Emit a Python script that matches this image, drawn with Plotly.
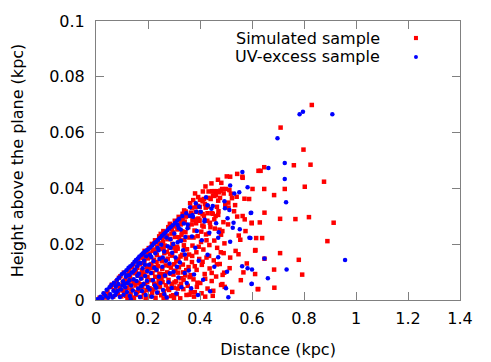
import plotly.graph_objects as go

# ---------------- data (distance kpc, height kpc) ----------------
sim_near = [
    (0.014, 0.0008), (0.031, 0.0022), (0.022, 0.0004), (0.044, 0.0031), (0.039, 0.0009), (0.057, 0.0047),
    (0.049, 0.0018), (0.066, 0.0012), (0.061, 0.0055), (0.072, 0.0036), (0.079, 0.0067), (0.084, 0.0021),
    (0.071, 0.0058), (0.091, 0.0044), (0.088, 0.0079), (0.097, 0.0013), (0.094, 0.0085), (0.103, 0.0061),
    (0.109, 0.0027), (0.107, 0.0098), (0.118, 0.0043), (0.113, 0.0072), (0.121, 0.0008), (0.126, 0.0104),
    (0.129, 0.0056), (0.133, 0.0023), (0.124, 0.0089), (0.138, 0.0117), (0.141, 0.0071), (0.136, 0.0038),
    (0.146, 0.0004), (0.149, 0.0096), (0.144, 0.0128), (0.152, 0.0052), (0.157, 0.0141), (0.155, 0.0019),
    (0.161, 0.0087), (0.159, 0.0115), (0.166, 0.0033), (0.163, 0.0062), (0.169, 0.0152), (0.172, 0.0011),
    (0.168, 0.0128), (0.175, 0.0079), (0.178, 0.0046), (0.181, 0.0163), (0.177, 0.0105), (0.184, 0.0024),
    (0.186, 0.0137), (0.183, 0.0091), (0.189, 0.0058), (0.192, 0.0171), (0.191, 0.0007), (0.195, 0.0119),
    (0.198, 0.0083), (0.194, 0.0035), (0.199, 0.0149), (0.116, 0.0015), (0.131, 0.0082), (0.147, 0.0061),
    (0.153, 0.0103), (0.171, 0.0056), (0.187, 0.0176), (0.197, 0.0064), (0.139, 0.0009), (0.102, 0.0034),
    (0.085, 0.0052), (0.158, 0.0029), (0.176, 0.0132),
]
sim_mid = [
    (0.203, 0.0186), (0.206, 0.0042), (0.201, 0.0112), (0.209, 0.0153), (0.212, 0.0071), (0.208, 0.0013),
    (0.215, 0.0201), (0.217, 0.0097), (0.213, 0.0129), (0.221, 0.0038), (0.219, 0.0176), (0.224, 0.0059),
    (0.227, 0.0214), (0.223, 0.0144), (0.229, 0.0008), (0.232, 0.0107), (0.228, 0.0083), (0.235, 0.0192),
    (0.238, 0.0026), (0.234, 0.0161), (0.241, 0.0069), (0.243, 0.0228), (0.239, 0.0121), (0.246, 0.0046),
    (0.248, 0.0183), (0.244, 0.0094), (0.251, 0.0017), (0.253, 0.0139), (0.249, 0.0237), (0.256, 0.0064),
    (0.258, 0.0209), (0.255, 0.0112), (0.261, 0.0031), (0.263, 0.0168), (0.259, 0.0247), (0.266, 0.0086),
    (0.268, 0.0124), (0.265, 0.0195), (0.271, 0.0009), (0.273, 0.0231), (0.269, 0.0053), (0.276, 0.0148),
    (0.278, 0.0261), (0.274, 0.0099), (0.281, 0.0036), (0.283, 0.0187), (0.279, 0.0072), (0.286, 0.0219),
    (0.288, 0.0116), (0.284, 0.0273), (0.291, 0.0058), (0.293, 0.0159), (0.289, 0.0014), (0.296, 0.0242),
    (0.298, 0.0091), (0.294, 0.0201), (0.301, 0.0128), (0.303, 0.0284), (0.299, 0.0044), (0.306, 0.0176),
    (0.308, 0.0067), (0.304, 0.0226), (0.311, 0.0021), (0.313, 0.0253), (0.309, 0.0139), (0.316, 0.0098),
    (0.318, 0.0298), (0.314, 0.0184), (0.321, 0.0049), (0.323, 0.0213), (0.319, 0.0117), (0.326, 0.0271),
    (0.328, 0.0078), (0.324, 0.0006), (0.331, 0.0162), (0.333, 0.0309), (0.329, 0.0234), (0.336, 0.0039),
    (0.338, 0.0196), (0.334, 0.0127), (0.341, 0.0281), (0.343, 0.0088), (0.339, 0.0321), (0.346, 0.0149),
    (0.348, 0.0018), (0.344, 0.0243), (0.347, 0.0107), (0.226, 0.0118), (0.236, 0.0053), (0.247, 0.0151),
    (0.257, 0.0093), (0.262, 0.0226), (0.272, 0.0172), (0.277, 0.0041), (0.287, 0.0094), (0.292, 0.0255),
    (0.302, 0.0063), (0.312, 0.0191), (0.317, 0.0145), (0.327, 0.0058), (0.332, 0.0246), (0.342, 0.0182),
    (0.237, 0.0209), (0.254, 0.0223), (0.282, 0.0123), (0.297, 0.0017), (0.307, 0.0264), (0.322, 0.0291),
    (0.337, 0.0072), (0.216, 0.0026), (0.231, 0.0172),
]
sim_extra = [
    (0.162, 0.0138), (0.171, 0.0094), (0.183, 0.0151), (0.194, 0.0102), (0.205, 0.0167), (0.214, 0.0115),
    (0.222, 0.0181), (0.233, 0.0136), (0.245, 0.0203), (0.252, 0.0079), (0.260, 0.0187), (0.267, 0.0142),
    (0.275, 0.0218), (0.285, 0.0165), (0.290, 0.0238), (0.300, 0.0188), (0.305, 0.0105), (0.310, 0.0269),
    (0.315, 0.0041), (0.320, 0.0225), (0.325, 0.0156), (0.330, 0.0293), (0.335, 0.0099), (0.340, 0.0215),
    (0.345, 0.0317), (0.350, 0.0182), (0.355, 0.0261), (0.360, 0.0082), (0.365, 0.0313), (0.370, 0.0158),
    (0.375, 0.0224), (0.380, 0.0121), (0.385, 0.0289), (0.390, 0.0062), (0.395, 0.0191), (0.400, 0.0359),
    (0.405, 0.0245), (0.410, 0.0137), (0.415, 0.0301), (0.420, 0.0076), (0.425, 0.0214), (0.430, 0.0335),
    (0.435, 0.0158), (0.440, 0.0261), (0.445, 0.0097), (0.450, 0.0375), (0.455, 0.0213), (0.460, 0.0301),
    (0.465, 0.0128), (0.470, 0.0356), (0.475, 0.0252), (0.480, 0.0171), (0.485, 0.0398), (0.490, 0.0279),
    (0.495, 0.0047), (0.360, 0.0019), (0.380, 0.0028), (0.420, 0.0012), (0.300, 0.0008), (0.260, 0.0005),
]
sim_outer = [
    (0.352, 0.0302), (0.356, 0.0118), (0.353, 0.0051), (0.359, 0.0224), (0.362, 0.0347), (0.358, 0.0163),
    (0.365, 0.0029), (0.368, 0.0271), (0.364, 0.0089), (0.371, 0.0195), (0.374, 0.0358), (0.369, 0.0136),
    (0.377, 0.0012), (0.379, 0.0249), (0.375, 0.0074), (0.383, 0.0316), (0.386, 0.0171), (0.381, 0.0382),
    (0.388, 0.0047), (0.391, 0.0229), (0.387, 0.0108), (0.394, 0.0292), (0.397, 0.0147), (0.393, 0.0369),
    (0.401, 0.0061), (0.404, 0.0208), (0.399, 0.0334), (0.407, 0.0126), (0.411, 0.0389), (0.406, 0.0024),
    (0.414, 0.0263), (0.418, 0.0093), (0.413, 0.0181), (0.422, 0.0331), (0.425, 0.0152), (0.421, 0.0407),
    (0.429, 0.0041), (0.433, 0.0238), (0.428, 0.0284), (0.437, 0.0113), (0.441, 0.0362), (0.436, 0.0197),
    (0.445, 0.0068), (0.449, 0.0309), (0.444, 0.0418), (0.453, 0.0142), (0.457, 0.0256), (0.451, 0.0033),
    (0.461, 0.0376), (0.466, 0.0187), (0.462, 0.0084), (0.471, 0.0318), (0.476, 0.0129), (0.469, 0.0431),
    (0.481, 0.0234), (0.486, 0.0057), (0.479, 0.0392), (0.491, 0.0168), (0.497, 0.0341), (0.493, 0.0098),
    (0.503, 0.0443), (0.508, 0.0271), (0.514, 0.0114), (0.519, 0.0381), (0.524, 0.0029), (0.531, 0.0318),
    (0.537, 0.0176), (0.543, 0.0452), (0.549, 0.0231), (0.557, 0.0071), (0.564, 0.0438), (0.572, 0.0289),
    (0.580, 0.0131), (0.589, 0.0362), (0.575, 0.0247), (0.555, 0.0216), (0.494, 0.0203), (0.486, 0.0247),
    (0.613, 0.0179), (0.548, 0.0164), (0.516, 0.0152), (0.567, 0.0099), (0.487, 0.009), (0.622, 0.0039),
    (0.449, 0.0015), (0.481, 0.0054), (0.398, 0.0285), (0.385, 0.0334), (0.370, 0.0331), (0.409, 0.0267),
    (0.423, 0.0235), (0.433, 0.0389), (0.415, 0.0362),
    (0.446, 0.039), (0.455, 0.039), (0.464, 0.039), (0.472, 0.0386), (0.491, 0.0382), (0.541, 0.037),
    (0.523, 0.0365), (0.433, 0.0366), (0.477, 0.0366), (0.455, 0.0373), (0.509, 0.0349), (0.535, 0.034),
    (0.571, 0.0363), (0.410, 0.0354), (0.419, 0.0344), (0.465, 0.0334), (0.391, 0.0337), (0.510, 0.0331),
    (0.564, 0.0301), (0.543, 0.0299), (0.400, 0.0313), (0.410, 0.0308), (0.429, 0.0311), (0.445, 0.0311),
    (0.470, 0.0305), (0.346, 0.0299), (0.333, 0.0289), (0.327, 0.0277), (0.599, 0.0275), (0.438, 0.0277),
    (0.455, 0.0289), (0.397, 0.0284), (0.385, 0.0275), (0.371, 0.0287), (0.500, 0.0398), (0.513, 0.0394),
]
sim_far = [
    (0.830, 0.0699), (0.710, 0.0618), (0.798, 0.0539), (0.761, 0.0483), (0.825, 0.0485), (0.647, 0.0476),
    (0.633, 0.0463), (0.625, 0.0463), (0.877, 0.0424), (0.602, 0.0398), (0.647, 0.0398), (0.726, 0.0398),
    (0.803, 0.0406), (0.685, 0.0376), (0.648, 0.0313), (0.708, 0.0291), (0.767, 0.0290), (0.819, 0.0297),
    (0.599, 0.0277), (0.630, 0.0278), (0.914, 0.0277), (0.616, 0.0222), (0.639, 0.0222), (0.890, 0.0211),
    (0.612, 0.0177), (0.708, 0.0168), (0.648, 0.0148), (0.780, 0.0144), (0.685, 0.0109), (0.612, 0.0093),
    (0.793, 0.0091), (0.624, 0.0039), (0.686, 0.0044), (0.516, 0.0442), (0.482, 0.042), (0.563, 0.0442),
]

uv_near = [
    (0.006, 0.0003), (0.017, 0.0012), (0.024, 0.0006), (0.029, 0.0024), (0.036, 0.0015), (0.041, 0.0037),
    (0.047, 0.0008), (0.052, 0.0046), (0.055, 0.0021), (0.059, 0.0054), (0.063, 0.0009), (0.067, 0.0033),
    (0.069, 0.0062), (0.073, 0.0017), (0.076, 0.0048), (0.081, 0.0073), (0.078, 0.0026), (0.086, 0.0057),
    (0.089, 0.0081), (0.092, 0.0011), (0.096, 0.0038), (0.099, 0.0092), (0.104, 0.0067), (0.106, 0.0019),
    (0.108, 0.0099), (0.112, 0.0046), (0.115, 0.0083), (0.117, 0.0107), (0.119, 0.0029), (0.122, 0.0061),
    (0.125, 0.0116), (0.127, 0.0089), (0.130, 0.0014), (0.132, 0.0121), (0.135, 0.0052), (0.137, 0.0098),
    (0.140, 0.0127), (0.142, 0.0034), (0.145, 0.0074), (0.148, 0.0137), (0.150, 0.0109), (0.153, 0.0022),
    (0.154, 0.0143), (0.156, 0.0068), (0.158, 0.0121), (0.161, 0.0149), (0.162, 0.0041), (0.165, 0.0094),
    (0.167, 0.0156), (0.169, 0.0011), (0.171, 0.0133), (0.173, 0.0076), (0.175, 0.0162), (0.177, 0.0032),
    (0.179, 0.0114), (0.181, 0.0168), (0.183, 0.0057), (0.185, 0.0141), (0.187, 0.0173), (0.189, 0.0086),
    (0.191, 0.0018), (0.193, 0.0157), (0.195, 0.0178), (0.197, 0.0104), (0.199, 0.0047), (0.084, 0.0033),
    (0.111, 0.0058), (0.128, 0.0071), (0.143, 0.0102), (0.159, 0.0087), (0.174, 0.0049), (0.188, 0.0126),
    (0.196, 0.0069), (0.134, 0.0003), (0.163, 0.0131), (0.101, 0.0052), (0.118, 0.0088),
]
uv_mid = [
    (0.202, 0.0183), (0.204, 0.0126), (0.206, 0.0038), (0.209, 0.0189), (0.211, 0.0097), (0.213, 0.0154),
    (0.215, 0.0012), (0.217, 0.0196), (0.219, 0.0071), (0.221, 0.0139), (0.223, 0.0203), (0.226, 0.0052),
    (0.228, 0.0168), (0.231, 0.0209), (0.233, 0.0108), (0.235, 0.0027), (0.237, 0.0186), (0.239, 0.0216),
    (0.242, 0.0083), (0.244, 0.0147), (0.246, 0.0222), (0.248, 0.0061), (0.251, 0.0198), (0.253, 0.0229),
    (0.255, 0.0119), (0.258, 0.0036), (0.260, 0.0236), (0.262, 0.0174), (0.265, 0.0088), (0.267, 0.0242),
    (0.269, 0.0141), (0.272, 0.0009), (0.274, 0.0249), (0.276, 0.0193), (0.279, 0.0064), (0.281, 0.0256),
    (0.283, 0.0131), (0.286, 0.0218), (0.288, 0.0262), (0.291, 0.0043), (0.293, 0.0169), (0.295, 0.0268),
    (0.298, 0.0101), (0.301, 0.0238), (0.304, 0.0276), (0.306, 0.0152), (0.309, 0.0023), (0.312, 0.0284),
    (0.314, 0.0207), (0.317, 0.0081), (0.320, 0.0291), (0.323, 0.0134), (0.326, 0.0253), (0.329, 0.0046),
    (0.332, 0.0301), (0.335, 0.0178), (0.338, 0.0274), (0.341, 0.0097), (0.344, 0.0226), (0.347, 0.0311),
    (0.349, 0.0061), (0.208, 0.0161), (0.224, 0.0116), (0.241, 0.0178), (0.257, 0.0152), (0.271, 0.0224),
    (0.284, 0.0096), (0.297, 0.0201), (0.311, 0.0119), (0.327, 0.0212), (0.342, 0.0163), (0.232, 0.0044),
    (0.263, 0.0021), (0.287, 0.0187), (0.318, 0.0258),
]
uv_outer = [
    (0.353, 0.0271), (0.357, 0.0106), (0.362, 0.0332), (0.366, 0.0042), (0.369, 0.0228), (0.373, 0.0298),
    (0.377, 0.0091), (0.382, 0.0187), (0.384, 0.0347), (0.388, 0.0247), (0.392, 0.0018), (0.395, 0.0141),
    (0.403, 0.0316), (0.407, 0.0214), (0.412, 0.0073), (0.418, 0.0288), (0.423, 0.0368), (0.429, 0.0162),
    (0.436, 0.0241), (0.439, 0.0031), (0.444, 0.0327), (0.455, 0.0119),
    (0.563, 0.0459), (0.516, 0.041), (0.583, 0.0404), (0.532, 0.0382), (0.551, 0.0386), (0.494, 0.0354),
    (0.496, 0.0329), (0.513, 0.0323), (0.597, 0.0313), (0.506, 0.0293), (0.529, 0.0277), (0.449, 0.0337),
    (0.429, 0.034), (0.397, 0.0334), (0.526, 0.0259), (0.553, 0.0254), (0.590, 0.0223), (0.516, 0.0209),
    (0.470, 0.0223), (0.472, 0.0243), (0.470, 0.0153), (0.648, 0.0149), (0.562, 0.0121), (0.583, 0.0114),
    (0.504, 0.0101), (0.598, 0.0057), (0.509, 0.001), (0.500, 0.0042), (0.661, 0.0078),
    (0.386, 0.0316), (0.371, 0.0305), (0.361, 0.0301), (0.417, 0.0281), (0.462, 0.0275), (0.314, 0.0269),
    (0.352, 0.0257),
]
uv_far = [
    (0.796, 0.0675), (0.783, 0.0666), (0.909, 0.0666), (0.698, 0.0580), (0.726, 0.0491), (0.663, 0.0473),
    (0.726, 0.0434), (0.731, 0.0350), (0.595, 0.0312), (0.594, 0.0222), (0.600, 0.0109), (0.733, 0.0109),
    (0.599, 0.0058), (0.958, 0.0143),
]

x_ticks = [0, 0.2, 0.4, 0.6, 0.8, 1.0, 1.2, 1.4]
x_tick_labels = ["0", "0.2", "0.4", "0.6", "0.8", "1", "1.2", "1.4"]
y_ticks = [0, 0.02, 0.04, 0.06, 0.08, 0.1]
y_tick_labels = ["0", "0.02", "0.04", "0.06", "0.08", "0.1"]

sim_pts = sim_near + sim_mid + sim_extra + sim_outer + sim_far
uv_pts = uv_near + uv_mid + uv_outer + uv_far

FONT = "DejaVu Sans"
GRAY = "#808080"

fig = go.Figure()
fig.add_trace(go.Scatter(
    x=[p[0] for p in sim_pts], y=[p[1] for p in sim_pts], mode="markers",
    name="Simulated sample",
    marker=dict(symbol="square", size=4.5, color="#ff0000", line=dict(width=0)),
))
fig.add_trace(go.Scatter(
    x=[p[0] for p in uv_pts], y=[p[1] for p in uv_pts], mode="markers",
    name="UV-excess sample",
    marker=dict(symbol="circle", size=4.5, color="#0000ff", line=dict(width=0)),
))

axis_common = dict(
    showgrid=False, zeroline=False, showline=True, linecolor=GRAY, linewidth=1,
    mirror="ticks", ticks="inside", ticklen=8, tickcolor=GRAY, tickwidth=1,
    tickfont=dict(family=FONT, size=16, color="#000000"), automargin=False,
)
fig.update_xaxes(range=[0, 1.4], tickvals=x_ticks, ticktext=x_tick_labels,
                 title=dict(text="Distance (kpc)", font=dict(family=FONT, size=16, color="#000"), standoff=16),
                 ticklabelstandoff=4, **axis_common)
fig.update_yaxes(range=[0, 0.1], tickvals=y_ticks, ticktext=y_tick_labels,
                 title=dict(text="Height above the plane (kpc)", font=dict(family=FONT, size=16, color="#000"), standoff=28),
                 ticklabelstandoff=7, **axis_common)

# legend (gnuplot style: right-aligned text, key sample to the right)
fig.add_annotation(x=0.786, y=0.939, xref="paper", yref="paper", xanchor="right", yanchor="middle",
                   text="Simulated sample", showarrow=False, font=dict(family=FONT, size=16, color="#000"))
fig.add_annotation(x=0.786, y=0.871, xref="paper", yref="paper", xanchor="right", yanchor="middle",
                   text="UV-excess sample", showarrow=False, font=dict(family=FONT, size=16, color="#000"))
fig.add_shape(type="rect", xref="paper", yref="paper", x0=0.8735, x1=0.8845, y0=0.9315, y1=0.9465,
              fillcolor="#ff0000", line=dict(width=0))
fig.add_shape(type="circle", xref="paper", yref="paper", x0=0.8735, x1=0.8845, y0=0.8635, y1=0.8785,
              fillcolor="#0000ff", line=dict(width=0))

# the page body carries an 8px default margin, so the margins are shifted by 8px
fig.update_layout(
    width=491, height=362, showlegend=False,
    margin=dict(l=88, r=39, t=13, b=70, pad=0),
    paper_bgcolor="white", plot_bgcolor="white",
    font=dict(family=FONT, size=16, color="#000"),
    hovermode=False,
)
fig.write_html("out.html")
